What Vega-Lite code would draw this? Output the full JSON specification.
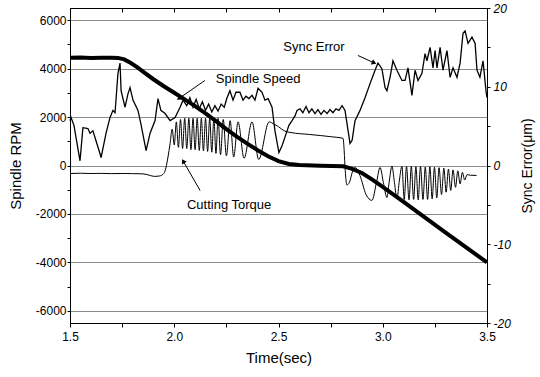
{
  "$schema": "https://vega.github.io/schema/vega-lite/v6.json",
  "width": 417,
  "height": 315,
  "autosize": {"type": "none"},
  "padding": {"left": 70, "top": 8, "right": 53, "bottom": 54},
  "background": "white",
  "config": {
    "view": {"stroke": "black", "strokeWidth": 1},
    "font": "Liberation Sans",
    "axis": {
      "labelFont": "Liberation Sans",
      "labelFontSize": 12,
      "labelColor": "black",
      "labelFlush": false,
      "labelOverlap": false,
      "tickColor": "black",
      "domainColor": "black",
      "titleFont": "Liberation Sans",
      "titleFontWeight": "normal",
      "titleFontSize": 15,
      "titleColor": "black",
      "gridColor": "#8c8c8c",
      "gridWidth": 1
    }
  },
  "datasets": {
    "speed": [
      {"t": 1.5, "rpm": 4450}, {"t": 1.55, "rpm": 4460}, {"t": 1.6, "rpm": 4440}, {"t": 1.65, "rpm": 4450},
      {"t": 1.7, "rpm": 4450}, {"t": 1.73, "rpm": 4440}, {"t": 1.76, "rpm": 4380}, {"t": 1.79, "rpm": 4240},
      {"t": 1.82, "rpm": 4070}, {"t": 1.86, "rpm": 3810}, {"t": 1.9, "rpm": 3560}, {"t": 1.95, "rpm": 3270},
      {"t": 2.0, "rpm": 3000}, {"t": 2.05, "rpm": 2730}, {"t": 2.1, "rpm": 2450}, {"t": 2.15, "rpm": 2150},
      {"t": 2.2, "rpm": 1830}, {"t": 2.25, "rpm": 1500}, {"t": 2.3, "rpm": 1190}, {"t": 2.35, "rpm": 900},
      {"t": 2.4, "rpm": 630}, {"t": 2.45, "rpm": 380}, {"t": 2.5, "rpm": 180}, {"t": 2.55, "rpm": 60},
      {"t": 2.6, "rpm": 20}, {"t": 2.7, "rpm": -10}, {"t": 2.81, "rpm": -30}, {"t": 2.85, "rpm": -130},
      {"t": 2.9, "rpm": -310}, {"t": 2.95, "rpm": -580}, {"t": 3.0, "rpm": -880}, {"t": 3.1, "rpm": -1500},
      {"t": 3.2, "rpm": -2130}, {"t": 3.3, "rpm": -2760}, {"t": 3.4, "rpm": -3380}, {"t": 3.5, "rpm": -4000}
    ],
    "torque": [
      {"t": 1.5, "v": -330}, {"t": 1.55, "v": -320}, {"t": 1.6, "v": -330}, {"t": 1.65, "v": -325},
      {"t": 1.7, "v": -335}, {"t": 1.75, "v": -330}, {"t": 1.8, "v": -335}, {"t": 1.85, "v": -345},
      {"t": 1.88, "v": -400}, {"t": 1.905, "v": -450}, {"t": 1.93, "v": -430}, {"t": 1.95, "v": -330},
      {"t": 1.96, "v": -100}, {"t": 1.97, "v": 350}, {"t": 1.98, "v": 900}, {"t": 1.99, "v": 1500},
      {"t": 2.0, "v": 850}, {"t": 2.01, "v": 1800}, {"t": 2.02, "v": 750}, {"t": 2.03, "v": 1900},
      {"t": 2.04, "v": 700}, {"t": 2.05, "v": 1950}, {"t": 2.06, "v": 700}, {"t": 2.07, "v": 1950},
      {"t": 2.08, "v": 650}, {"t": 2.09, "v": 1950}, {"t": 2.1, "v": 650}, {"t": 2.11, "v": 1950},
      {"t": 2.12, "v": 620}, {"t": 2.13, "v": 1950}, {"t": 2.14, "v": 600}, {"t": 2.15, "v": 1950},
      {"t": 2.16, "v": 580}, {"t": 2.17, "v": 1950}, {"t": 2.18, "v": 550}, {"t": 2.19, "v": 1950},
      {"t": 2.2, "v": 500}, {"t": 2.21, "v": 1950}, {"t": 2.222, "v": 450}, {"t": 2.235, "v": 1900},
      {"t": 2.25, "v": 400}, {"t": 2.268, "v": 1850}, {"t": 2.285, "v": 350}, {"t": 2.306, "v": 1800},
      {"t": 2.335, "v": 300}, {"t": 2.373, "v": 1800}, {"t": 2.405, "v": 250}, {"t": 2.455, "v": 1800},
      {"t": 2.48, "v": 1700}, {"t": 2.5, "v": 1600}, {"t": 2.53, "v": 1420}, {"t": 2.56, "v": 1360},
      {"t": 2.65, "v": 1280}, {"t": 2.75, "v": 1190}, {"t": 2.81, "v": 1120}, {"t": 2.815, "v": 600},
      {"t": 2.82, "v": -200}, {"t": 2.828, "v": -800}, {"t": 2.84, "v": -700}, {"t": 2.855, "v": -250},
      {"t": 2.867, "v": -80}, {"t": 2.89, "v": -400}, {"t": 2.92, "v": -1200}, {"t": 2.948, "v": -1440},
      {"t": 2.97, "v": -700}, {"t": 2.987, "v": -80}, {"t": 3.003, "v": -700}, {"t": 3.02, "v": -1320},
      {"t": 3.032, "v": -600}, {"t": 3.044, "v": -20}, {"t": 3.056, "v": -700}, {"t": 3.068, "v": -1380},
      {"t": 3.08, "v": -600}, {"t": 3.092, "v": -30}, {"t": 3.103, "v": -1400}, {"t": 3.114, "v": -40},
      {"t": 3.126, "v": -1420}, {"t": 3.137, "v": -30}, {"t": 3.148, "v": -1400}, {"t": 3.159, "v": -50},
      {"t": 3.17, "v": -1420}, {"t": 3.181, "v": -40}, {"t": 3.193, "v": -1400}, {"t": 3.204, "v": -60},
      {"t": 3.215, "v": -1400}, {"t": 3.226, "v": -50}, {"t": 3.237, "v": -1380}, {"t": 3.248, "v": -70},
      {"t": 3.259, "v": -1340}, {"t": 3.27, "v": -90}, {"t": 3.282, "v": -1200}, {"t": 3.293, "v": -110},
      {"t": 3.304, "v": -1100}, {"t": 3.315, "v": -150}, {"t": 3.326, "v": -1030}, {"t": 3.337, "v": -180},
      {"t": 3.349, "v": -900}, {"t": 3.36, "v": -220}, {"t": 3.371, "v": -760}, {"t": 3.382, "v": -280},
      {"t": 3.393, "v": -600}, {"t": 3.404, "v": -380}, {"t": 3.42, "v": -400}, {"t": 3.45, "v": -410}
    ],
    "sync": [
      {"t": 1.5, "um": 5.7}, {"t": 1.505, "um": 6.1}, {"t": 1.519, "um": 5.1}, {"t": 1.548, "um": 0.6},
      {"t": 1.562, "um": 4.8}, {"t": 1.586, "um": 4.7}, {"t": 1.596, "um": 4.1}, {"t": 1.61, "um": 4.4},
      {"t": 1.644, "um": 1.5}, {"t": 1.649, "um": 1.0}, {"t": 1.673, "um": 4.1}, {"t": 1.692, "um": 6.1},
      {"t": 1.706, "um": 7.0}, {"t": 1.716, "um": 6.7}, {"t": 1.73, "um": 11.7}, {"t": 1.74, "um": 13.0},
      {"t": 1.745, "um": 9.5}, {"t": 1.764, "um": 7.4}, {"t": 1.778, "um": 9.1}, {"t": 1.788, "um": 9.9},
      {"t": 1.802, "um": 8.3}, {"t": 1.826, "um": 7.0}, {"t": 1.84, "um": 5.3}, {"t": 1.865, "um": 1.9},
      {"t": 1.884, "um": 4.1}, {"t": 1.908, "um": 5.7}, {"t": 1.922, "um": 8.5}, {"t": 1.936, "um": 7.0},
      {"t": 1.956, "um": 6.6}, {"t": 1.98, "um": 5.7}, {"t": 2.004, "um": 6.1}, {"t": 2.028, "um": 7.4},
      {"t": 2.042, "um": 8.3}, {"t": 2.06, "um": 7.6}, {"t": 2.075, "um": 8.6}, {"t": 2.09, "um": 7.4},
      {"t": 2.105, "um": 8.4}, {"t": 2.12, "um": 7.2}, {"t": 2.135, "um": 8.1}, {"t": 2.15, "um": 7.0},
      {"t": 2.165, "um": 7.8}, {"t": 2.18, "um": 6.8}, {"t": 2.195, "um": 7.6}, {"t": 2.21, "um": 6.9},
      {"t": 2.225, "um": 7.8}, {"t": 2.24, "um": 7.4}, {"t": 2.253, "um": 8.6}, {"t": 2.267, "um": 9.5},
      {"t": 2.282, "um": 8.3}, {"t": 2.296, "um": 9.3}, {"t": 2.315, "um": 9.3}, {"t": 2.33, "um": 8.3},
      {"t": 2.344, "um": 8.8}, {"t": 2.358, "um": 8.5}, {"t": 2.373, "um": 8.9}, {"t": 2.387, "um": 8.3},
      {"t": 2.402, "um": 9.8}, {"t": 2.421, "um": 9.3}, {"t": 2.435, "um": 8.3}, {"t": 2.45, "um": 8.5},
      {"t": 2.469, "um": 7.4}, {"t": 2.483, "um": 4.4}, {"t": 2.502, "um": 1.65}, {"t": 2.517, "um": 2.5},
      {"t": 2.531, "um": 3.6}, {"t": 2.55, "um": 5.1}, {"t": 2.565, "um": 5.7}, {"t": 2.579, "um": 6.3},
      {"t": 2.589, "um": 7.0}, {"t": 2.603, "um": 7.2}, {"t": 2.617, "um": 6.7}, {"t": 2.632, "um": 7.5},
      {"t": 2.646, "um": 6.7}, {"t": 2.66, "um": 7.2}, {"t": 2.675, "um": 6.6}, {"t": 2.689, "um": 7.1},
      {"t": 2.704, "um": 6.5}, {"t": 2.718, "um": 7.0}, {"t": 2.733, "um": 6.6}, {"t": 2.747, "um": 7.1},
      {"t": 2.761, "um": 6.7}, {"t": 2.776, "um": 7.2}, {"t": 2.79, "um": 7.0}, {"t": 2.805, "um": 7.6},
      {"t": 2.819, "um": 7.0}, {"t": 2.843, "um": 2.8}, {"t": 2.853, "um": 3.2}, {"t": 2.867, "um": 5.7},
      {"t": 2.891, "um": 7.0}, {"t": 2.915, "um": 8.6}, {"t": 2.939, "um": 10.4}, {"t": 2.963, "um": 12.1},
      {"t": 2.977, "um": 13.0}, {"t": 2.996, "um": 12.3}, {"t": 3.011, "um": 9.9}, {"t": 3.02, "um": 9.5},
      {"t": 3.035, "um": 11.2}, {"t": 3.049, "um": 13.3}, {"t": 3.068, "um": 12.1}, {"t": 3.092, "um": 10.8},
      {"t": 3.107, "um": 10.8}, {"t": 3.121, "um": 12.4}, {"t": 3.14, "um": 8.9}, {"t": 3.155, "um": 12.1},
      {"t": 3.169, "um": 10.8}, {"t": 3.188, "um": 11.7}, {"t": 3.203, "um": 14.2}, {"t": 3.212, "um": 13.3},
      {"t": 3.227, "um": 15.0}, {"t": 3.241, "um": 12.4}, {"t": 3.251, "um": 14.6}, {"t": 3.26, "um": 12.4},
      {"t": 3.275, "um": 15.0}, {"t": 3.289, "um": 12.1}, {"t": 3.308, "um": 14.6}, {"t": 3.323, "um": 11.2},
      {"t": 3.337, "um": 12.4}, {"t": 3.356, "um": 11.2}, {"t": 3.371, "um": 13.0}, {"t": 3.385, "um": 16.8},
      {"t": 3.395, "um": 17.1}, {"t": 3.409, "um": 15.5}, {"t": 3.428, "um": 16.3}, {"t": 3.443, "um": 15.5},
      {"t": 3.452, "um": 12.1}, {"t": 3.466, "um": 11.2}, {"t": 3.481, "um": 13.3}, {"t": 3.495, "um": 9.5},
      {"t": 3.5, "um": 8.6}
    ],
    "arrows": [
      {"name": "speed", "t0": 2.147, "v0": 3508, "t1": 2.025, "v1": 2780},
      {"name": "sync", "t0": 2.881, "v0": 4540, "t1": 2.955, "v1": 4250},
      {"name": "torque", "t0": 2.124, "v0": -1032, "t1": 2.045, "v1": 150}
    ],
    "labels": [
      {"text": "Spindle Speed", "t": 2.402, "v": 3590},
      {"text": "Sync Error", "t": 2.67, "v": 4870},
      {"text": "Cutting Torque", "t": 2.263, "v": -1650}
    ]
  },
  "layer": [
    {
      "data": {"name": "speed"},
      "mark": {"type": "line", "color": "black", "strokeWidth": 4},
      "encoding": {
        "x": {
          "field": "t", "type": "quantitative",
          "scale": {"domain": [1.5, 3.5], "nice": false, "zero": false},
          "axis": {
            "title": "Time(sec)",
            "values": [1.5, 1.75, 2.0, 2.25, 2.5, 2.75, 3.0, 3.25, 3.5],
            "labelExpr": "(datum.value * 2) % 1 === 0 ? format(datum.value, '.1f') : ''",
            "tickSize": 4,
            "labelPadding": 4,
            "titlePadding": 8,
            "grid": false
          }
        },
        "y": {
          "field": "rpm", "type": "quantitative",
          "scale": {"domain": [-6500, 6500], "nice": false, "zero": false},
          "axis": {
            "title": "Spindle RPM",
            "values": [-6000, -5000, -4000, -3000, -2000, -1000, 0, 1000, 2000, 3000, 4000, 5000, 6000],
            "labelExpr": "datum.value % 2000 === 0 ? '' + datum.value : ''",
            "tickSize": 3,
            "labelPadding": 1,
            "titlePadding": 12,
            "grid": true,
            "gridOpacity": {"condition": {"test": "datum.value % 2000 === 0", "value": 1}, "value": 0}
          }
        }
      }
    },
    {
      "data": {"name": "torque"},
      "mark": {"type": "line", "color": "black", "strokeWidth": 1, "interpolate": "monotone"},
      "encoding": {
        "x": {"field": "t", "type": "quantitative", "axis": null},
        "y": {"field": "v", "type": "quantitative", "scale": {"domain": [-6500, 6500], "nice": false, "zero": false}, "axis": null}
      }
    },
    {
      "data": {"name": "sync"},
      "mark": {"type": "line", "color": "black", "strokeWidth": 1.3},
      "encoding": {
        "x": {
          "field": "t", "type": "quantitative",
          "axis": {
            "orient": "top",
            "title": null,
            "labels": false,
            "domain": false,
            "values": [1.5, 1.75, 2.0, 2.25, 2.5, 2.75, 3.0, 3.25, 3.5],
            "tickSize": -4,
            "grid": false
          }
        },
        "y": {
          "field": "um", "type": "quantitative",
          "scale": {"domain": [-20, 20], "nice": false, "zero": false},
          "axis": {
            "orient": "right",
            "title": "Sync Error(μm)",
            "titleAngle": 270,
            "titleFontSize": 14,
            "values": [-20, -15, -10, -5, 0, 5, 10, 15, 20],
            "labelExpr": "datum.value % 10 === 0 ? '' + datum.value : ''",
            "labelFontStyle": "italic",
            "tickSize": 3,
            "labelPadding": 3,
            "titlePadding": 24,
            "grid": false
          }
        }
      }
    },
    {
      "data": {"name": "arrows"},
      "mark": {"type": "rule", "color": "black", "strokeWidth": 1},
      "encoding": {
        "x": {"field": "t0", "type": "quantitative", "axis": null},
        "y": {"field": "v0", "type": "quantitative", "scale": {"domain": [-6500, 6500], "nice": false, "zero": false}, "axis": null},
        "x2": {"field": "t1"},
        "y2": {"field": "v1"}
      }
    },
    {
      "data": {"name": "arrows"},
      "transform": [{"filter": "datum.name === 'speed'"}],
      "mark": {"type": "point", "shape": "triangle", "filled": true, "color": "black", "size": 30, "angle": 238, "opacity": 1},
      "encoding": {
        "x": {"field": "t1", "type": "quantitative", "axis": null},
        "y": {"field": "v1", "type": "quantitative", "scale": {"domain": [-6500, 6500], "nice": false, "zero": false}, "axis": null}
      }
    },
    {
      "data": {"name": "arrows"},
      "transform": [{"filter": "datum.name === 'sync'"}],
      "mark": {"type": "point", "shape": "triangle", "filled": true, "color": "black", "size": 30, "angle": 114, "opacity": 1},
      "encoding": {
        "x": {"field": "t1", "type": "quantitative", "axis": null},
        "y": {"field": "v1", "type": "quantitative", "scale": {"domain": [-6500, 6500], "nice": false, "zero": false}, "axis": null}
      }
    },
    {
      "data": {"name": "arrows"},
      "transform": [{"filter": "datum.name === 'torque'"}],
      "mark": {"type": "point", "shape": "triangle", "filled": true, "color": "black", "size": 30, "angle": 330, "opacity": 1},
      "encoding": {
        "x": {"field": "t1", "type": "quantitative", "axis": null},
        "y": {"field": "v1", "type": "quantitative", "scale": {"domain": [-6500, 6500], "nice": false, "zero": false}, "axis": null}
      }
    },
    {
      "data": {"name": "labels"},
      "mark": {"type": "text", "font": "Liberation Sans", "fontSize": 13, "color": "black", "align": "center", "baseline": "middle"},
      "encoding": {
        "x": {"field": "t", "type": "quantitative", "axis": null},
        "y": {"field": "v", "type": "quantitative", "scale": {"domain": [-6500, 6500], "nice": false, "zero": false}, "axis": null},
        "text": {"field": "text"}
      }
    }
  ],
  "resolve": {"scale": {"y": "independent"}, "axis": {"x": "independent"}}
}
